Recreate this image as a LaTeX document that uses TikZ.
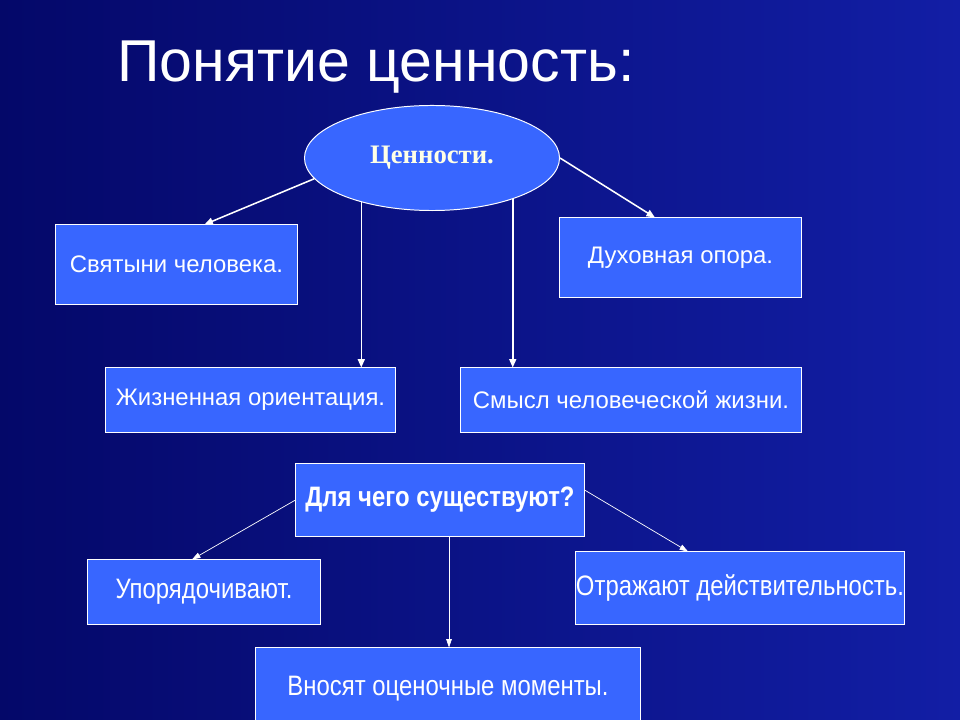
\documentclass[tikz,border=0pt]{standalone}
\usepackage{fontspec}
\setmainfont{Liberation Sans}
\newfontfamily\serifbold{Liberation Serif}
\newfontfamily\narrowfont[FakeStretch=0.85]{Liberation Sans}
\usepackage{tikz}
\usetikzlibrary{arrows.meta,shapes.geometric}

\definecolor{boxblue}{RGB}{56,102,255}
\definecolor{bgdark}{RGB}{4,8,105}
\definecolor{bgmid}{RGB}{8,18,135}
\definecolor{bglight}{RGB}{18,30,165}
\definecolor{cream}{RGB}{255,255,230}

\tikzset{
  box/.style={rectangle, draw=white, line width=0.7pt, fill=boxblue, text=white,
    font=\fontsize{17}{20}\selectfont, inner sep=0pt},
  nbox/.style={box, font=\narrowfont\fontsize{20}{24}\selectfont},
  arr/.style={draw=white, line width=1.1pt, -{Triangle[width=5pt,length=6pt]}},
  thinarr/.style={draw=white, line width=0.5pt, -{Triangle[width=4pt,length=6pt]}}
}

\begin{document}
\begin{tikzpicture}[x=0.025cm, y=-0.025cm]
                            % Background
                            \useasboundingbox (0,0) rectangle (960,720);
                            \shade[left color=bgdark, middle color=bgmid, right color=bglight] (0,0) rectangle (960,720);
                            \node[text=white, font=\fontsize{42}{48}\selectfont] (title) at (376,67) {Понятие ценность:};
                            % Nodes
                            \node[ellipse, draw=white, line width=0.7pt, fill=boxblue, text=cream,
                              minimum width=6.375cm, minimum height=2.625cm, inner sep=0pt,
                              font=\serifbold\bfseries\fontsize{19}{22}\selectfont] (val) at (432,158) {Ценности.};
                            \foreach \name/\x/\y/\w/\h/\txt in {sv/176.5/264.5/6.025/1.975/Святыни человека.,
                                dux/680.5/257.5/6.025/1.975/Духовная опора.,
                                zhiz/250.5/400/7.225/1.6/Жизненная ориентация.,
                                smysl/631/400/8.5/1.6/Смысл человеческой жизни.} {
                              \node[box, minimum width=\w cm, minimum height=\h cm] (\name) at (\x,\y) {\txt};
                            }
                            \node[nbox, minimum width=7.2cm, minimum height=1.8cm, font=\narrowfont\bfseries\fontsize{20}{24}\selectfont] (why) at (440,500) {Для чего существуют?};
                            \foreach \name/\x/\y/\w/\h/\txt in {upor/204/592/5.8/1.6/Упорядочивают.,
                                otr/740/588/8.2/1.8/Отражают действительность.,
                                vnos/448/689/9.6/2.05/Вносят оценочные моменты.} {
                              \node[nbox, minimum width=\w cm, minimum height=\h cm] (\name) at (\x,\y) {\txt};
                            }
                            % Edges
                            \draw[arr] (val.190) -- ([xshift=0.7cm]sv.north);
                            \draw[arr] (val.212.5) -- (val.212.5 |- zhiz.north);
                            \draw[arr] (val.333) -- (val.333 |- smysl.north);
                            \draw[arr] (val.east) -- ([xshift=-0.64cm]dux.north);
                            \draw[thinarr] (why.west) -- ([xshift=-0.3cm]upor.north);
                            \draw[thinarr] ([xshift=0.225cm]why.south) -- ([xshift=0.225cm]why.south |- vnos.north);
                            \draw[thinarr] ([yshift=0.25cm]why.east) -- ([xshift=-1.3cm]otr.north);
                        \end{tikzpicture}
\end{document}
